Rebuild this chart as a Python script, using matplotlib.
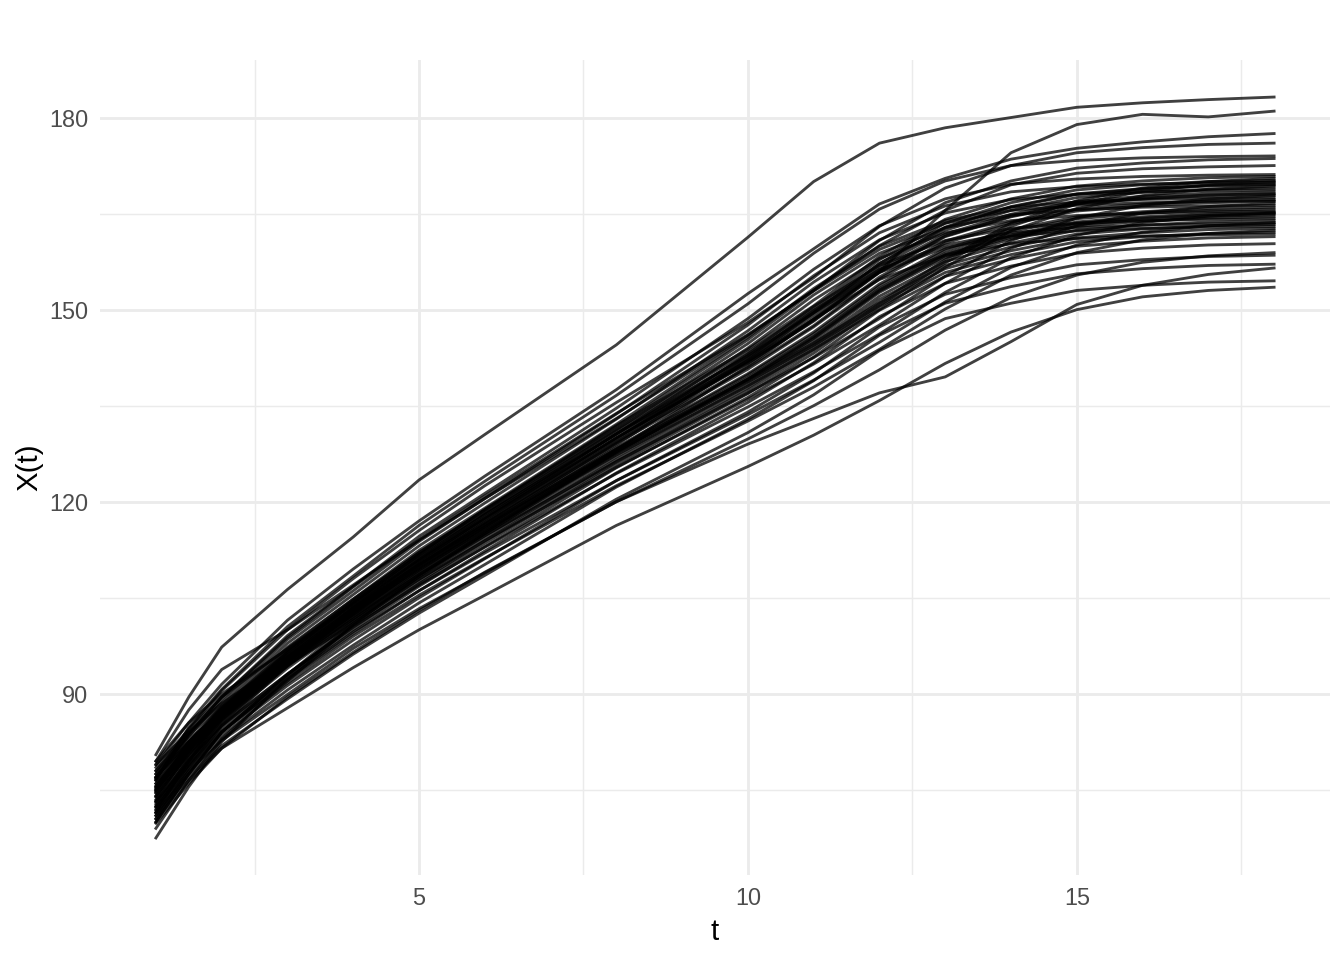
import matplotlib
matplotlib.use("Agg")
import matplotlib.pyplot as plt
from matplotlib.ticker import MultipleLocator

ages = [1, 1.5, 2, 3, 4, 5, 6, 8, 10, 11, 12, 13, 14, 15, 16, 17, 18]

girl01 = [80.5, 89.5, 97.3, 106.3, 114.5, 123.4, 130.5, 144.5, 161.3, 170.0, 176.0, 178.4, 180.0, 181.6, 182.3, 182.8, 183.2]
girl02 = [79.5, 87.5, 93.8, 100.0, 107.0, 114.0, 120.5, 133.0, 146.0, 153.0, 160.0, 165.5, 169.5, 171.3, 172.0, 172.3, 172.5]
girl03 = [78.9, 85.5, 91.5, 101.5, 109.5, 117.0, 124.0, 137.5, 152.5, 159.5, 166.5, 170.5, 173.5, 175.2, 176.2, 177.0, 177.5]
girl04 = [77.5, 84.5, 90.5, 100.0, 108.0, 115.5, 122.5, 135.5, 148.0, 155.0, 163.0, 169.0, 172.5, 174.5, 175.3, 175.8, 176.0]
girl05 = [76.5, 84.8, 90.7, 100.5, 108.4, 116.3, 123.2, 136.6, 150.9, 158.8, 165.7, 170.1, 172.5, 173.3, 173.7, 173.9, 174.0]
girl06 = [76.8, 83.7, 89.5, 98.8, 106.7, 114.1, 120.9, 133.8, 146.1, 153.0, 160.8, 166.7, 170.1, 172.1, 172.9, 173.4, 173.6]
girl07 = [77.0, 83.8, 89.5, 99.1, 106.8, 114.6, 121.3, 134.6, 148.6, 156.3, 163.1, 167.3, 169.6, 170.4, 170.8, 171.0, 171.1]
girl08 = [73.5, 81.0, 87.2, 96.0, 104.2, 111.8, 118.8, 131.9, 143.8, 150.6, 158.3, 164.1, 167.3, 169.3, 170.1, 170.6, 170.8]
girl09 = [74.9, 81.6, 87.3, 95.8, 103.5, 110.2, 116.4, 128.2, 139.1, 144.8, 151.1, 157.8, 163.5, 167.0, 169.0, 170.0, 170.5]
girl10 = [78.5, 84.5, 89.5, 97.1, 104.8, 112.0, 118.7, 131.4, 143.4, 150.1, 157.8, 163.5, 166.7, 168.7, 169.5, 170.0, 170.2]
girl11 = [76.7, 83.4, 89.1, 98.5, 106.1, 113.8, 120.5, 133.7, 147.6, 155.3, 162.0, 166.2, 168.4, 169.2, 169.6, 169.8, 169.9]
girl12 = [71.5, 79.5, 86.0, 95.0, 103.2, 110.7, 117.5, 130.6, 142.9, 149.6, 157.2, 162.9, 166.1, 168.1, 168.9, 169.4, 169.6]
girl13 = [74.5, 81.2, 86.8, 95.2, 102.8, 109.5, 115.6, 127.3, 138.1, 143.8, 150.0, 156.6, 162.3, 165.8, 167.8, 168.8, 169.3]
girl14 = [75.4, 82.1, 87.7, 96.5, 104.2, 111.3, 118.0, 130.6, 142.4, 149.1, 156.7, 162.4, 165.5, 167.5, 168.3, 168.8, 169.0]
girl15 = [79.0, 84.0, 88.6, 97.9, 105.5, 113.1, 119.8, 132.9, 146.7, 154.3, 160.9, 165.1, 167.2, 168.0, 168.4, 168.6, 168.7]
girl16 = [70.5, 78.5, 85.0, 94.5, 102.8, 110.3, 117.2, 130.0, 141.9, 148.6, 156.2, 161.8, 164.9, 166.9, 167.7, 168.2, 168.4]
girl17 = [75.1, 81.8, 87.4, 96.1, 103.7, 110.8, 117.4, 130.0, 141.7, 148.3, 155.9, 161.5, 164.6, 166.6, 167.4, 167.9, 168.1]
girl18 = [74.0, 80.6, 86.2, 94.4, 102.0, 108.6, 114.7, 126.3, 137.0, 142.5, 148.6, 155.2, 160.8, 164.3, 166.3, 167.3, 167.8]
girl19 = [76.0, 82.5, 88.1, 97.3, 104.8, 112.4, 119.0, 132.1, 145.7, 153.3, 159.9, 163.9, 166.0, 166.8, 167.2, 167.4, 167.5]
girl20 = [77.5, 83.0, 87.0, 95.6, 103.2, 110.2, 116.8, 129.4, 141.0, 147.5, 155.1, 160.7, 163.7, 165.7, 166.5, 167.0, 167.2]
girl21 = [74.8, 81.3, 86.9, 95.5, 103.0, 110.1, 116.6, 129.1, 140.7, 147.3, 154.8, 160.4, 163.4, 165.4, 166.2, 166.7, 166.9]
girl22 = [70.0, 77.5, 84.0, 93.0, 101.4, 107.9, 113.9, 125.4, 136.0, 141.5, 147.6, 154.1, 159.6, 163.1, 165.1, 166.1, 166.6]
girl23 = [75.6, 82.1, 87.6, 96.7, 104.2, 111.7, 118.2, 131.2, 144.7, 152.3, 158.8, 162.8, 164.8, 165.6, 166.0, 166.2, 166.3]
girl24 = [72.0, 79.5, 86.5, 95.0, 102.5, 109.5, 116.0, 128.5, 140.0, 146.5, 154.0, 159.5, 162.5, 164.5, 165.3, 165.8, 166.0]
girl25 = [78.0, 84.0, 88.5, 95.5, 102.3, 109.3, 115.8, 128.3, 139.8, 146.2, 153.7, 159.2, 162.2, 164.2, 165.0, 165.5, 165.7]
girl26 = [75.3, 81.8, 87.3, 96.2, 103.7, 111.2, 117.6, 130.6, 144.0, 151.5, 158.0, 162.0, 163.9, 164.7, 165.1, 165.3, 165.4]
girl27 = [73.2, 79.7, 85.2, 93.1, 100.5, 107.0, 112.9, 124.4, 134.8, 140.3, 146.2, 152.7, 158.1, 161.6, 163.6, 164.6, 165.1]
girl28 = [69.0, 76.5, 83.0, 92.0, 100.8, 108.3, 115.0, 127.7, 139.1, 145.5, 152.9, 158.4, 161.3, 163.3, 164.1, 164.6, 164.8]
girl29 = [74.1, 80.5, 85.9, 94.3, 101.7, 108.6, 115.0, 127.5, 138.8, 145.2, 152.7, 158.1, 161.0, 163.0, 163.8, 164.3, 164.5]
girl30 = [77.0, 82.5, 86.8, 95.6, 103.0, 110.4, 116.8, 129.8, 143.1, 150.5, 156.9, 160.8, 162.7, 163.5, 163.9, 164.1, 164.2]
girl31 = [73.9, 80.3, 85.7, 94.0, 101.4, 108.3, 114.7, 127.0, 138.3, 144.7, 152.1, 157.5, 160.4, 162.4, 163.2, 163.7, 163.9]
girl32 = [71.0, 78.0, 84.0, 92.3, 99.7, 106.1, 112.0, 123.3, 133.6, 139.0, 144.9, 151.2, 156.6, 160.1, 162.1, 163.1, 163.6]
girl33 = [76.5, 82.5, 87.5, 94.5, 101.0, 107.9, 114.3, 126.6, 137.8, 144.2, 151.6, 156.9, 159.8, 161.8, 162.6, 163.1, 163.3]
girl34 = [74.6, 81.0, 86.3, 95.0, 102.4, 109.7, 116.1, 128.9, 142.1, 149.5, 155.8, 159.7, 161.5, 162.3, 162.7, 162.9, 163.0]
girl35 = [70.0, 77.5, 84.0, 93.0, 100.7, 107.5, 113.9, 126.2, 137.4, 143.7, 151.0, 156.4, 159.2, 161.2, 162.0, 162.5, 162.7]
girl36 = [72.4, 78.8, 84.1, 91.7, 99.0, 105.4, 111.2, 122.5, 132.6, 137.9, 143.8, 150.1, 155.4, 158.9, 160.9, 161.9, 162.4]
girl37 = [73.3, 79.7, 85.0, 93.1, 100.4, 107.2, 113.5, 125.8, 136.9, 143.2, 150.5, 155.8, 158.6, 160.6, 161.4, 161.9, 162.1]
girl38 = [78.0, 83.5, 88.0, 95.0, 101.7, 109.0, 115.3, 128.1, 141.2, 148.5, 154.7, 158.5, 160.3, 161.1, 161.5, 161.7, 161.8]
girl39 = [73.1, 79.4, 84.7, 92.7, 100.0, 106.8, 113.0, 125.3, 136.3, 142.6, 149.9, 155.2, 157.9, 159.9, 160.7, 161.2, 161.4]
girl40 = [67.5, 75.5, 82.5, 92.5, 101.0, 108.5, 115.2, 127.8, 139.2, 145.7, 153.1, 158.6, 161.5, 163.5, 164.3, 164.8, 165.0]
girl41 = [72.5, 80.0, 87.0, 96.5, 104.6, 112.1, 118.7, 131.7, 145.3, 152.9, 159.4, 163.5, 165.5, 166.3, 166.7, 166.9, 167.0]
girl42 = [79.5, 85.5, 90.0, 97.0, 104.0, 110.9, 117.3, 129.9, 141.6, 148.2, 155.8, 161.4, 164.5, 166.5, 167.3, 167.8, 168.0]
girl43 = [71.5, 79.0, 85.5, 95.0, 102.6, 110.0, 116.4, 129.3, 142.5, 149.9, 156.3, 160.1, 162.0, 162.8, 163.2, 163.4, 163.5]
girl44 = [75.6, 82.2, 87.9, 96.8, 104.4, 111.6, 118.3, 131.0, 142.8, 149.5, 157.2, 162.8, 166.0, 168.0, 168.8, 169.3, 169.5]
girl45 = [72.8, 79.0, 84.2, 92.2, 99.4, 106.1, 112.3, 124.5, 135.5, 141.7, 148.9, 154.1, 156.8, 158.8, 159.6, 160.1, 160.3]
girl46 = [71.4, 77.5, 82.7, 89.9, 97.1, 103.3, 108.9, 120.0, 129.8, 135.0, 140.6, 146.8, 151.9, 155.4, 157.4, 158.4, 158.9]
girl47 = [72.3, 78.4, 83.5, 91.3, 98.4, 105.0, 111.1, 123.3, 134.0, 140.1, 147.3, 152.4, 155.0, 157.0, 157.8, 158.3, 158.5]
girl48 = [71.8, 77.9, 82.9, 90.6, 97.6, 104.2, 110.2, 122.3, 132.9, 138.9, 146.0, 151.0, 153.6, 155.6, 156.4, 156.9, 157.1]
girl49 = [75.0, 81.0, 86.5, 95.5, 103.5, 111.0, 118.0, 130.5, 142.0, 148.5, 156.0, 165.5, 174.5, 178.9, 180.5, 180.1, 181.0]
girl50 = [70.5, 76.5, 81.5, 89.5, 96.5, 103.0, 109.0, 120.0, 129.0, 133.0, 137.0, 139.5, 145.0, 150.8, 153.8, 155.5, 156.5]
girl51 = [71.0, 77.0, 81.9, 89.2, 96.2, 102.6, 108.5, 120.4, 130.8, 136.7, 143.6, 148.6, 151.0, 153.0, 153.8, 154.3, 154.5]
girl52 = [69.8, 76.0, 81.5, 87.8, 94.1, 100.0, 105.4, 116.3, 125.5, 130.4, 135.8, 141.6, 146.5, 150.0, 152.0, 153.0, 153.5]
girl53 = [77.0, 82.5, 87.5, 95.5, 103.2, 109.9, 116.1, 127.8, 138.7, 144.4, 150.6, 157.3, 163.0, 166.5, 168.5, 169.5, 170.0]
girl54 = [76.0, 81.5, 86.5, 94.6, 102.1, 109.0, 115.5, 128.0, 139.4, 145.8, 153.3, 158.8, 161.7, 163.7, 164.5, 165.0, 165.2]

girls = [girl01, girl02, girl03, girl04, girl05, girl06, girl07, girl08, girl09,
         girl10, girl11, girl12, girl13, girl14, girl15, girl16, girl17, girl18,
         girl19, girl20, girl21, girl22, girl23, girl24, girl25, girl26, girl27,
         girl28, girl29, girl30, girl31, girl32, girl33, girl34, girl35, girl36,
         girl37, girl38, girl39, girl40, girl41, girl42, girl43, girl44, girl45,
         girl46, girl47, girl48, girl49, girl50, girl51, girl52, girl53, girl54]

plt.rcParams['font.family'] = ['Liberation Sans', 'DejaVu Sans']

fig = plt.figure(figsize=(7, 5), dpi=192)
ax = fig.add_axes([100 / 1344, 85 / 960, 1230 / 1344, 815 / 960])

for g in girls:
    ax.plot(ages, g, color='black', alpha=0.75, lw=1.07, solid_joinstyle='round')

ax.margins(x=0.05, y=0.05)

ax.xaxis.set_major_locator(MultipleLocator(5))
ax.xaxis.set_minor_locator(MultipleLocator(2.5))
ax.yaxis.set_major_locator(MultipleLocator(30))
ax.yaxis.set_minor_locator(MultipleLocator(15))

ax.grid(which='major', color='#EBEBEB', lw=1.07)
ax.grid(which='minor', color='#EBEBEB', lw=0.53)
ax.set_axisbelow(True)
for s in ax.spines.values():
    s.set_visible(False)
ax.tick_params(which='both', length=0, labelsize=8.8, labelcolor='#4D4D4D', pad=4.4)

ax.set_xlabel('t', fontsize=11, labelpad=3)
ax.set_ylabel('X(t)', fontsize=11, labelpad=2)

fig.savefig('out.png', dpi=192, facecolor='white')
